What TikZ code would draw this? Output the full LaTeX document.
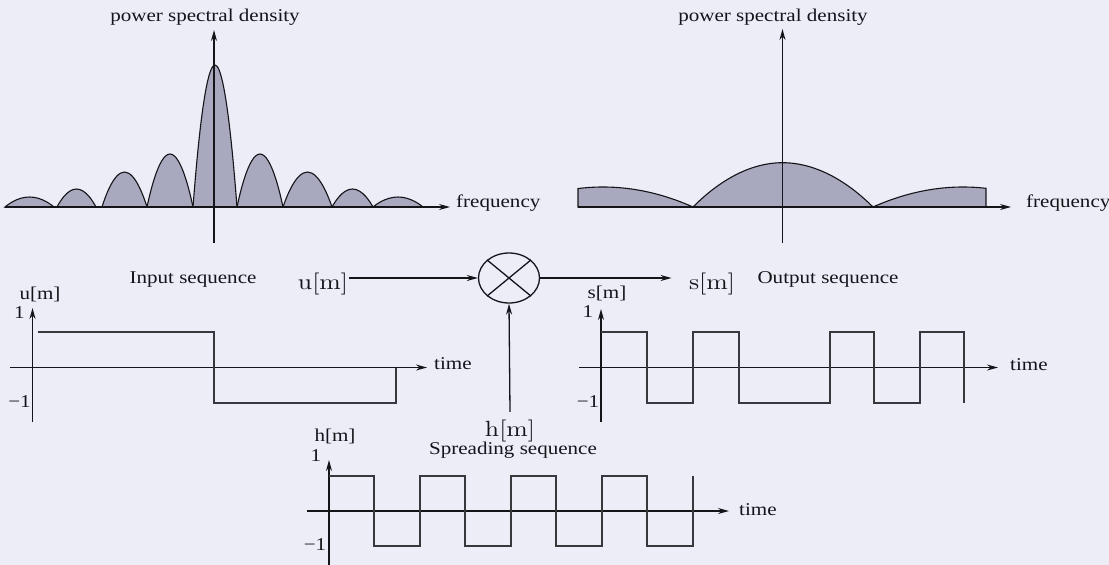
\documentclass[tikz,border=0pt]{standalone}
\usepackage{fontspec}
\setmainfont{Liberation Serif}[FakeStretch=1.17]
\newfontfamily\lmbig{lmroman10-regular.otf}[FakeStretch=1.17]
\usetikzlibrary{arrows.meta,shapes.geometric}
\definecolor{paper}{RGB}{237,237,248}
\definecolor{lobefill}{RGB}{168,168,190}
\definecolor{ink}{RGB}{20,20,25}
\definecolor{waveink}{RGB}{55,55,60}
\tikzset{
  axis/.style={draw=ink, line width=1.3pt, -{Stealth[length=11pt,width=6pt]}},
  wave/.style={draw=waveink, line width=1.3pt},
  lobe/.style={fill=lobefill, draw=ink, line width=1.1pt},
  lbl/.style={font=\fontsize{18}{20}\selectfont, text=ink, inner sep=0pt, anchor=base},
  lblw/.style={lbl, anchor=base west},
  big/.style={font=\lmbig\fontsize{22}{24}\selectfont, text=ink, anchor=base},
  flow/.style={draw=ink, line width=1.3pt, -{Stealth[length=11pt,width=6pt]}}
}
\begin{document}
\begin{tikzpicture}[x=1pt,y=-1pt]
\fill[paper] (0,0) rectangle (1109,565);
\useasboundingbox (0,0) rectangle (1109,565);

% ---------- left power spectral density ----------
\foreach \a/\b/\h in {5/54/10,57/96/18,102/147/35,147/193/53,193/237/142,237/283/53,283/332/35,332/373/18,373/423/10}{
  \pgfmathsetmacro{\m}{(\a+\b)/2}
  \filldraw[lobe] (\a,207) parabola bend (\m,207-\h) (\b,207) -- cycle;
}
\coordinate (lx0) at (5,207);   \coordinate (lx1) at (450,207);
\coordinate (ly0) at (214,243); \coordinate (ly1) at (214,30);
\draw[axis] (lx0) -- (lx1);
\draw[axis] (ly0) -- (ly1);
\node[lbl] (psdL) at (205,21) {power spectral density};
\node[lblw] (freqL) at (456,207) {frequency};

% ---------- right power spectral density ----------
\filldraw[lobe] (578,207) -- plot[domain=578:693,samples=40,smooth] (\x,{207-20*(1-((\x-603)/90)^2)}) -- cycle;
\filldraw[lobe] (693,207) parabola bend (782.5,162.7) (873,207) -- cycle;
\filldraw[lobe] (873,207) -- plot[domain=873:986,samples=40,smooth] (\x,{207-20*(1-((\x-963)/90)^2)}) -- (986,207) -- cycle;
\coordinate (rx0) at (578,207);   \coordinate (rx1) at (1011,207);
\coordinate (ry0) at (782.5,243); \coordinate (ry1) at (782.5,29);
\draw[axis] (rx0) -- (rx1);
\draw[axis] (ry0) -- (ry1);
\node[lbl] (psdR) at (773,21) {power spectral density};
\node[lblw] (freqR) at (1026,207) {frequency};

% ---------- block diagram ----------
\node[lbl] (inseq) at (193,283) {Input sequence};
\node[big, inner xsep=1pt] (ubig) at (323,289) {u[m]};
\node[draw=ink, line width=1.3pt, ellipse, minimum width=61pt, minimum height=50pt, inner sep=0pt] (mult) at (509,278) {};
\draw[ink, line width=1.3pt] (mult.north east) -- (mult.south west);
\draw[ink, line width=1.3pt] (mult.north west) -- (mult.south east);
\node[big] (sbig) at (712,289) {s[m]};
\node[lbl] (outseq) at (828,283) {Output sequence};
\node[big, inner ysep=7.5pt] (hbig) at (510,436) {h[m]};
\node[lbl] (spread) at (513,454) {Spreading sequence};
\draw[flow] (ubig.east |- mult.west) -- (mult.west);
\draw[flow, shorten >=14pt] (mult.east) -- (sbig.west |- mult.east);
\draw[flow] (hbig.north) -- (mult.south);

% ---------- u[m] ----------
\coordinate (ux0) at (10,367.5);  \coordinate (ux1) at (427,367.5);
\coordinate (uy0) at (32.5,422);  \coordinate (uy1) at (32.5,308);
\draw[axis] (ux0) -- (ux1);
\draw[axis] (uy0) -- (uy1);
\draw[wave] (38,332) -- (214,332) -- (214,403) -- (396,403) -- (396,367.5);
\node[lbl] (ulab) at (40,299) {u[m]};
\node[lbl] (uone) at (19.5,318) {1};
\node[lbl] (umone) at (19.5,407) {\char"2212 1};
\node[lblw] (utime) at (434,369) {time};

% ---------- s[m] ----------
\coordinate (sx0) at (579,367.5);  \coordinate (sx1) at (998,367.5);
\coordinate (sy0) at (601,422);    \coordinate (sy1) at (601,309);
\draw[axis] (sx0) -- (sx1);
\draw[axis] (sy0) -- (sy1);
\draw[wave] (601,332) -| (647,403) -| (693,332) -| (739,403) -| (830,332) -| (874,403) -| (920,332) -| (964,403);
\node[lbl] (slab) at (607,298) {s[m]};
\node[lbl] (sone) at (588,317) {1};
\node[lbl] (smone) at (588,407) {\char"2212 1};
\node[lblw] (stime) at (1010,370) {time};

% ---------- h[m] ----------
\coordinate (hx0) at (307,511);  \coordinate (hx1) at (729,511);
\coordinate (hy0) at (329,565);  \coordinate (hy1) at (329,460);
\draw[axis] (hx0) -- (hx1);
\draw[axis] (hy0) -- (hy1);
\draw[wave] (329,476) -| (374,546) -| (420,476) -| (465,546) -| (511,476) -| (556,546) -| (602,476) -| (647,546) -| (693,476);
\node[lbl] (hlab) at (335,441.5) {h[m]};
\node[lbl] (hone) at (316,461.5) {1};
\node[lbl] (hmone) at (315,550) {\char"2212 1};
\node[lblw] (htime) at (739,515) {time};
\end{tikzpicture}
\end{document}
